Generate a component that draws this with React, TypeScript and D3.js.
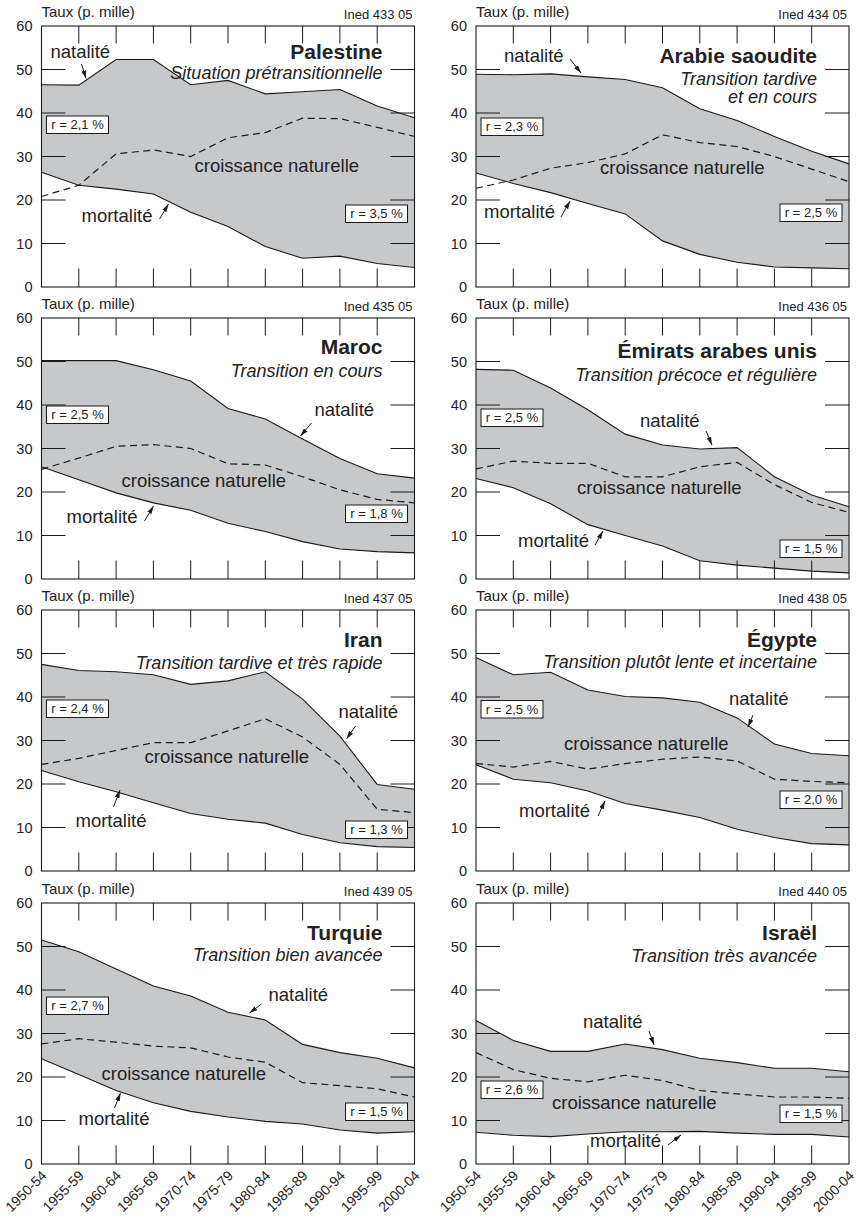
import React from "react";
import * as d3 from "d3";

// ---------- DATA ----------
const periods = ["1950-54", "1955-59", "1960-64", "1965-69", "1970-74", "1975-79", "1980-84", "1985-89", "1990-94", "1995-99", "2000-04"];
const yTicks = [0, 10, 20, 30, 40, 50, 60];

const countries = ["Palestine", "Arabie saoudite", "Maroc", "Émirats arabes unis", "Iran", "Égypte", "Turquie", "Israël"];
const subtitles = [
  ["Situation prétransitionnelle"],
  ["Transition tardive", "et en cours"],
  ["Transition en cours"],
  ["Transition précoce et régulière"],
  ["Transition tardive et très rapide"],
  ["Transition plutôt lente et incertaine"],
  ["Transition bien avancée"],
  ["Transition très avancée"],
];
const inedCodes = ["Ined 433 05", "Ined 434 05", "Ined 435 05", "Ined 436 05", "Ined 437 05", "Ined 438 05", "Ined 439 05", "Ined 440 05"];
const rStart = ["2,1", "2,3", "2,5", "2,5", "2,4", "2,5", "2,7", "2,6"];
const rEnd = ["3,5", "2,5", "1,8", "1,5", "1,3", "2,0", "1,5", "1,5"];

const natalitePalestine = [46.5, 46.4, 52.3, 52.3, 46.5, 47.5, 44.4, 44.9, 45.4, 41.6, 38.9];
const mortalitePalestine = [26.4, 23.4, 22.5, 21.4, 17.2, 13.9, 9.3, 6.6, 7.1, 5.4, 4.5];
const croissancePalestine = [20.8, 23.4, 30.6, 31.5, 30.0, 34.3, 35.5, 38.8, 38.7, 36.7, 34.6];

const nataliteArabie = [48.9, 48.8, 49.0, 48.3, 47.7, 45.8, 41.0, 38.3, 34.6, 31.2, 28.3];
const mortaliteArabie = [26.2, 23.8, 21.7, 19.2, 16.8, 10.6, 7.5, 5.7, 4.6, 4.4, 4.2];
const croissanceArabie = [22.7, 24.6, 27.3, 28.6, 30.6, 35.0, 33.2, 32.3, 30.0, 27.1, 24.2];

const nataliteMaroc = [50.2, 50.2, 50.2, 48.1, 45.5, 39.2, 36.8, 32.2, 27.7, 24.2, 23.2];
const mortaliteMaroc = [25.8, 22.8, 19.8, 17.5, 15.8, 12.8, 10.9, 8.6, 6.9, 6.3, 6.0];
const croissanceMaroc = [25.2, 27.8, 30.5, 30.9, 30.0, 26.5, 26.2, 23.5, 20.5, 18.3, 17.5];

const nataliteEmirats = [48.2, 48.0, 43.9, 38.9, 33.3, 30.8, 29.9, 30.2, 23.5, 19.3, 16.6];
const mortaliteEmirats = [23.1, 21.0, 17.3, 12.5, 10.0, 7.6, 4.2, 3.2, 2.5, 1.8, 1.4];
const croissanceEmirats = [25.3, 27.1, 26.6, 26.6, 23.5, 23.5, 25.8, 26.8, 21.7, 17.6, 15.3];

const nataliteIran = [47.5, 46.1, 45.8, 45.1, 42.9, 43.7, 45.8, 39.5, 31.0, 19.9, 18.8];
const mortaliteIran = [23.1, 20.5, 18.2, 15.7, 13.2, 11.9, 11.0, 8.4, 6.5, 5.6, 5.4];
const croissanceIran = [24.5, 25.9, 27.7, 29.5, 29.5, 32.2, 35.0, 30.8, 24.5, 14.2, 13.4];

const nataliteEgypte = [49.1, 45.1, 45.7, 41.6, 40.1, 39.8, 38.8, 35.2, 29.2, 27.0, 26.5];
const mortaliteEgypte = [24.4, 21.1, 20.3, 18.4, 15.5, 14.0, 12.3, 9.6, 7.7, 6.3, 6.0];
const croissanceEgypte = [24.7, 23.9, 25.2, 23.4, 24.7, 25.7, 26.2, 25.3, 21.1, 20.6, 20.3];

const nataliteTurquie = [51.5, 48.8, 44.8, 40.9, 38.6, 34.9, 33.1, 27.5, 25.6, 24.3, 22.1];
const mortaliteTurquie = [24.2, 20.6, 16.9, 14.1, 12.1, 10.8, 9.8, 9.2, 7.8, 7.1, 7.4];
const croissanceTurquie = [27.6, 28.8, 28.0, 27.1, 26.7, 24.6, 23.4, 18.7, 18.0, 17.3, 15.4];

const nataliteIsrael = [33.0, 28.4, 25.9, 25.9, 27.6, 26.3, 24.3, 23.3, 22.0, 22.0, 21.2];
const mortaliteIsrael = [7.3, 6.6, 6.3, 6.9, 7.4, 7.4, 7.5, 7.1, 6.8, 6.8, 6.2];
const croissanceIsrael = [25.6, 21.7, 19.7, 18.9, 20.4, 19.2, 16.9, 16.1, 15.4, 15.4, 15.1];

const natalite = [natalitePalestine, nataliteArabie, nataliteMaroc, nataliteEmirats, nataliteIran, nataliteEgypte, nataliteTurquie, nataliteIsrael];
const mortalite = [mortalitePalestine, mortaliteArabie, mortaliteMaroc, mortaliteEmirats, mortaliteIran, mortaliteEgypte, mortaliteTurquie, mortaliteIsrael];
const croissance = [croissancePalestine, croissanceArabie, croissanceMaroc, croissanceEmirats, croissanceIran, croissanceEgypte, croissanceTurquie, croissanceIsrael];

// ---------- LAYOUT ----------
const FONT = "'Liberation Sans', Arial, Helvetica, sans-serif";
const COL_X = [41.5, 476];
const ROW_Y = [26, 318, 610, 903];
const PW = 373;
const PH = 261;
const INK = "#1a1a1a";
const FILL = "#c7c8ca";

// label anchors relative to plot area (px): nat/mort = [textX, baseline, arrowX1, arrowY1, arrowX2, arrowY2]
const layouts = [
  { title: 32.5, sub: [53], nat: [9, 32, 40, 38, 44.5, 52.5], croi: [153, 146], mort: [40, 196, 118, 193, 127, 178], boxL: 90, boxR: 179 },
  { title: 37, sub: [58.5, 77], nat: [28, 36, 94, 33, 105, 47], croi: [124, 148], mort: [8, 192, 85, 191, 94, 175], boxL: 92, boxR: 178 },
  { title: 35.5, sub: [58.5], nat: [273, 98, 270, 105, 259, 118], croi: [80, 169], mort: [25, 205, 103, 203, 112, 188], boxL: 88, boxR: 187 },
  { title: 40, sub: [62.5], nat: [164, 109, 230, 113, 236, 127], croi: [101, 176], mort: [42, 229, 119, 227, 127, 213], boxL: 91, boxR: 222 },
  { title: 36.5, sub: [58.5], nat: [297, 108, 314, 116, 305, 129], croi: [103, 153], mort: [34, 217, 72, 197, 78.5, 180], boxL: 90, boxR: 211 },
  { title: 36.5, sub: [58], nat: [253, 95, 277, 105, 272, 117], croi: [88, 140], mort: [43, 207, 122, 206, 129, 191], boxL: 90.5, boxR: 181 },
  { title: 36.5, sub: [58], nat: [227, 98, 220, 101, 208, 110], croi: [60, 177], mort: [37, 222, 73, 205, 79, 190], boxL: 94, boxR: 200 },
  { title: 36.5, sub: [59], nat: [107, 125, 173, 128, 178, 142], croi: [76, 206], mort: [114, 244, 192, 242, 205, 232], boxL: 178, boxR: 202 },
];

const x = d3.scalePoint<string>().domain(periods).range([0, PW]);
const y = d3.scaleLinear().domain([0, 60]).range([PH, 0]);

function Panel({ i }: { i: number }) {
  const L = layouts[i];
  const col = i % 2;
  const row = Math.floor(i / 2);
  const nat = natalite[i];
  const mort = mortalite[i];
  const cro = croissance[i];

  const area = d3
    .area<number>()
    .x((_, k) => x(periods[k]) as number)
    .y0((_, k) => y(mort[k]))
    .y1((d) => y(d))(nat) as string;
  const line = d3
    .line<number>()
    .x((_, k) => x(periods[k]) as number)
    .y((d) => y(d));

  const boxW = 62;
  const boxH = 17.5;
  const labelStyle = { fontFamily: FONT, fontSize: 18.5, fill: "#222" } as React.CSSProperties;

  return (
    <g transform={`translate(${COL_X[col]},${ROW_Y[row]})`}>
      {/* header */}
      <text x={0} y={-9} style={{ fontFamily: FONT, fontSize: 15, fill: "#222" }}>
        Taux (p. mille)
      </text>
      <text x={PW - 2} y={-7} textAnchor="end" style={{ fontFamily: FONT, fontSize: 13, fill: "#222" }}>
        {inedCodes[i]}
      </text>

      {/* area & lines */}
      <path d={area} fill={FILL} stroke="none" />
      <path d={line(nat) as string} fill="none" stroke={INK} strokeWidth={1.1} />
      <path d={line(mort) as string} fill="none" stroke={INK} strokeWidth={1.1} />
      <path d={line(cro) as string} fill="none" stroke={INK} strokeWidth={1.2} strokeDasharray="7,4.5" />

      {/* y ticks (both sides) */}
      {yTicks.slice(1, -1).map((t) => (
        <g key={"yt" + t}>
          <line x1={0} x2={24} y1={y(t)} y2={y(t)} stroke={INK} strokeWidth={1} />
          <line x1={PW - 24} x2={PW} y1={y(t)} y2={y(t)} stroke={INK} strokeWidth={1} />
        </g>
      ))}
      {yTicks.map((t) => (
        <text key={"yl" + t} x={-9} y={y(t)} dy="0.36em" textAnchor="end" style={{ fontFamily: FONT, fontSize: 14.5, fill: "#222" }}>
          {t}
        </text>
      ))}
      {/* x ticks top & bottom */}
      {periods.slice(1, -1).map((p) => (
        <g key={"xt" + p}>
          <line x1={x(p)} x2={x(p)} y1={0} y2={17.5} stroke={INK} strokeWidth={1} />
          <line x1={x(p)} x2={x(p)} y1={PH - 18.5} y2={PH} stroke={INK} strokeWidth={1} />
        </g>
      ))}
      {/* frame */}
      <rect x={0} y={0} width={PW} height={PH} fill="none" stroke={INK} strokeWidth={1.1} />

      {/* x labels on bottom row */}
      {row === 3 &&
        periods.map((p) => (
          <text
            key={"xl" + p}
            transform={`translate(${(x(p) as number) + 6},${PH + 12.5}) rotate(-45)`}
            textAnchor="end"
            style={{ fontFamily: FONT, fontSize: 14, fill: "#222" }}
          >
            {p}
          </text>
        ))}

      {/* title */}
      <text x={PW - 32} y={L.title} textAnchor="end" style={{ fontFamily: FONT, fontSize: 21, fontWeight: 700, fill: "#222" }}>
        {countries[i]}
      </text>
      {subtitles[i].map((s, k) => (
        <text key={"st" + k} x={PW - 32} y={L.sub[k]} textAnchor="end" style={{ fontFamily: FONT, fontSize: 18, fontStyle: "italic", fill: "#222" }}>
          {s}
        </text>
      ))}

      {/* series labels */}
      <text x={L.nat[0]} y={L.nat[1]} style={labelStyle}>natalité</text>
      <line x1={L.nat[2]} y1={L.nat[3]} x2={L.nat[4]} y2={L.nat[5]} stroke={INK} strokeWidth={1} markerEnd="url(#ah)" />
      <text x={L.croi[0]} y={L.croi[1]} style={labelStyle}>croissance naturelle</text>
      <text x={L.mort[0]} y={L.mort[1]} style={labelStyle}>mortalité</text>
      <line x1={L.mort[2]} y1={L.mort[3]} x2={L.mort[4]} y2={L.mort[5]} stroke={INK} strokeWidth={1} markerEnd="url(#ah)" />

      {/* r boxes */}
      <rect x={5} y={L.boxL} width={boxW} height={boxH} fill="#fff" stroke={INK} strokeWidth={1} />
      <text x={5 + boxW / 2} y={L.boxL + boxH / 2} dy="0.36em" textAnchor="middle" style={{ fontFamily: FONT, fontSize: 13, fill: "#222" }}>
        {`r = ${rStart[i]} %`}
      </text>
      <rect x={PW - 7 - boxW} y={L.boxR} width={boxW} height={boxH} fill="#fff" stroke={INK} strokeWidth={1} />
      <text x={PW - 7 - boxW / 2} y={L.boxR + boxH / 2} dy="0.36em" textAnchor="middle" style={{ fontFamily: FONT, fontSize: 13, fill: "#222" }}>
        {`r = ${rEnd[i]} %`}
      </text>
    </g>
  );
}

export default function App() {
  return (
    <svg
      width={857}
      height={1220}
      viewBox="0 0 857 1220"
      style={{ position: "absolute", left: 0, top: 0, display: "block", background: "#fff" }}
    >
      <defs>
        <marker id="ah" viewBox="0 0 10 6" refX="10" refY="3" markerWidth="8" markerHeight="5" orient="auto" markerUnits="userSpaceOnUse">
          <path d="M0,0L10,3L0,6z" fill={INK} />
        </marker>
      </defs>
      <rect x={0} y={0} width={857} height={1220} fill="#fff" />
      {countries.map((_, i) => (
        <Panel key={i} i={i} />
      ))}
    </svg>
  );
}
